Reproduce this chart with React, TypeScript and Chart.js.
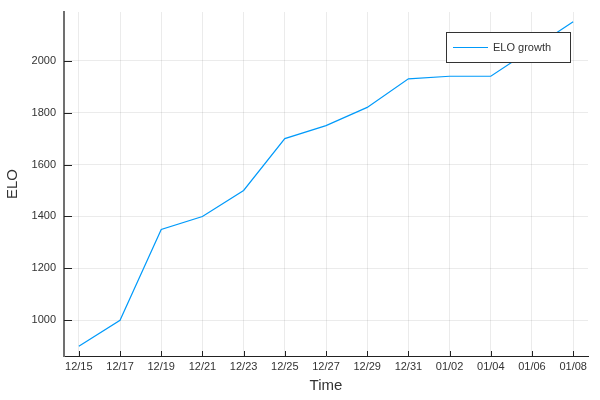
import React, { useEffect, useRef } from "react";
import { Chart, registerables } from "chart.js";

Chart.register(...registerables);

const dateLabels = ["12/15", "12/17", "12/19", "12/21", "12/23", "12/25", "12/27", "12/29", "12/31", "01/02", "01/04", "01/06", "01/08"];
const eloValues = [900, 1000, 1350, 1400, 1500, 1700, 1750, 1820, 1930, 1940, 1940, 2045, 2150];
const seriesName = "ELO growth";
const xTitle = "Time";
const yTitle = "ELO";

const FONT = "'Liberation Sans', Arial, sans-serif";

const innerTicks = {
  id: "innerTicks",
  afterDatasetsDraw(chart: any) {
    const ctx = chart.ctx;
    const area = chart.chartArea;
    const xs = chart.scales.x;
    const ys = chart.scales.y;
    ctx.save();
    ctx.strokeStyle = "#222";
    ctx.lineWidth = 1;
    xs.ticks.forEach((t: any) => {
      const px = Math.round(xs.getPixelForValue(t.value)) + 0.5;
      ctx.beginPath();
      ctx.moveTo(px, area.bottom);
      ctx.lineTo(px, area.bottom - 5);
      ctx.stroke();
    });
    ys.ticks.forEach((t: any) => {
      const py = Math.round(ys.getPixelForValue(t.value)) + 0.5;
      ctx.beginPath();
      ctx.moveTo(area.left, py);
      ctx.lineTo(area.left + 8, py);
      ctx.stroke();
    });
    ctx.restore();
  },
};

const boxLegend = {
  id: "boxLegend",
  afterDraw(chart: any) {
    const ctx = chart.ctx;
    const area = chart.chartArea;
    const ds = chart.data.datasets[0];
    const right = area.right - 18;
    const left = right - 124;
    const top = area.top + 20;
    const h = 30;
    ctx.save();
    ctx.fillStyle = "#fff";
    ctx.fillRect(left, top, right - left, h);
    ctx.strokeStyle = "#333";
    ctx.lineWidth = 1;
    ctx.strokeRect(left + 0.5, top + 0.5, right - left, h);
    const cy = top + h / 2 + 0.5;
    ctx.strokeStyle = ds.borderColor;
    ctx.lineWidth = 1;
    ctx.beginPath();
    ctx.moveTo(left + 7, cy);
    ctx.lineTo(left + 42, cy);
    ctx.stroke();
    ctx.fillStyle = "#333";
    ctx.font = `11px ${FONT}`;
    ctx.textBaseline = "middle";
    ctx.textAlign = "left";
    ctx.fillText(ds.label, left + 47, cy);
    ctx.restore();
  },
};

export default function App() {
  const ref = useRef<HTMLCanvasElement>(null);
  useEffect(() => {
    const chart = new Chart(ref.current!, {
      type: "line",
      data: {
        datasets: [
          {
            label: seriesName,
            data: eloValues.map((v, i) => ({ x: i, y: v })),
            borderColor: "#009AFA",
            backgroundColor: "#009AFA",
            borderWidth: 1.2,
            pointRadius: 0,
            tension: 0,
          },
        ],
      },
      options: {
        animation: false,
        responsive: false,
        maintainAspectRatio: false,
        layout: { padding: { top: 12, right: 12, left: 0, bottom: 0 } },
        plugins: { legend: { display: false }, tooltip: { enabled: false } },
        scales: {
          x: {
            type: "linear",
            min: -0.36,
            max: 12.36,
            afterFit: (s: any) => { s.height = 44; s.paddingLeft = 0; s.paddingRight = 0; },
            grid: { color: "rgba(0,0,0,0.08)", lineWidth: 1, drawTicks: false },
            border: { color: "#222", width: 1 },
            ticks: {
              stepSize: 1,
              includeBounds: false,
              padding: 4,
              autoSkip: false,
              maxRotation: 0,
              color: "#333",
              font: { family: FONT, size: 11 },
              callback: (v: any) => dateLabels[v] ?? "",
            },
            title: { display: true, text: xTitle, color: "#333", font: { family: FONT, size: 15 }, padding: { top: 2, bottom: 5 } },
          },
          y: {
            min: 862.5,
            max: 2187.5,
            afterFit: (s: any) => { s.width = 64; s.paddingTop = 0; s.paddingBottom = 0; },
            grid: { color: "rgba(0,0,0,0.08)", lineWidth: 1, drawTicks: false },
            border: { color: "#707070", width: 2 },
            ticks: {
              stepSize: 200,
              includeBounds: false,
              padding: 8,
              color: "#333",
              font: { family: FONT, size: 11 },
              callback: (v: any) => String(v),
            },
            title: { display: true, text: yTitle, color: "#333", font: { family: FONT, size: 15 }, padding: { top: 4, bottom: 0 } },
          },
        },
      },
      plugins: [innerTicks, boxLegend],
    });
    return () => chart.destroy();
  }, []);
  return (
    <div style={{ position: "fixed", left: 0, top: 0, width: 600, height: 400, background: "#fff" }}>
      <canvas ref={ref} width={600} height={400} style={{ width: 600, height: 400 }} />
    </div>
  );
}
